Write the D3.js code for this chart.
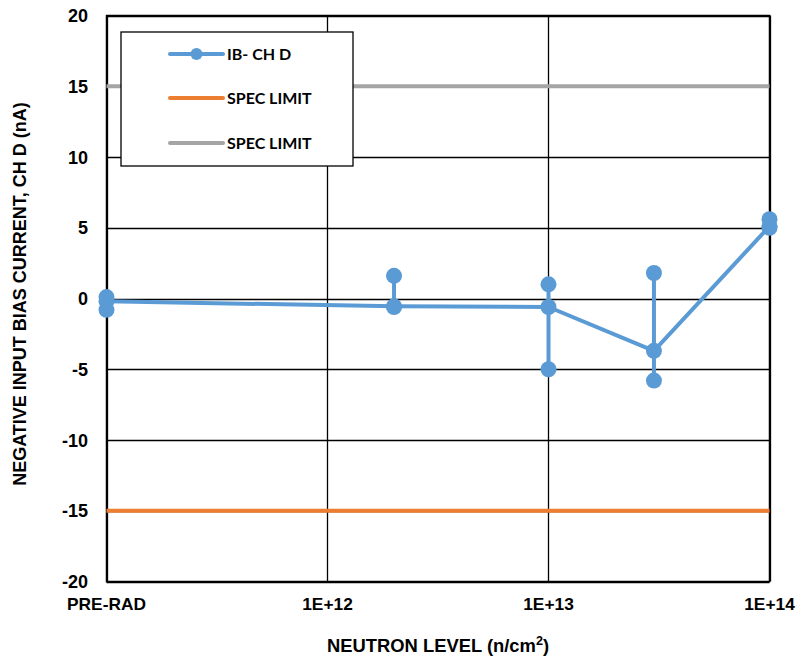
<!DOCTYPE html>
<html><head><meta charset="utf-8">
<script src="https://cdn.jsdelivr.net/npm/d3@7"></script>
<style>body{margin:0;background:#fff}svg{display:block}</style>
</head><body>
<script>
// Data
const levels = [1e11, 2e12, 1e13, 3e13, 1e14];
const hiVals  = [0.1, 1.6, 1.0, 1.8, 5.6];
const midVals = [-0.2, -0.55, -0.6, -3.7, 5.1];
const loVals  = [-0.8, -0.6, -5.0, -5.8, 5.0];
const specHigh = 15, specLow = -15;
const xTicks = [1e11, 1e12, 1e13, 1e14];
const xTickLabels = ["PRE-RAD", "1E+12", "1E+13", "1E+14"];
const yTicks = [-20, -15, -10, -5, 0, 5, 10, 15, 20];
const legendLabels = ["IB- CH D", "SPEC LIMIT", "SPEC LIMIT"];

const W = 796, H = 659;
const m = {l:106.5, r:769.5, t:15.5, b:581.5};
const blue = "#5B9BD5", orange = "#ED7D31", grey = "#A5A5A5";
const arial = "Liberation Sans, Arial, sans-serif";

const svg = d3.select("body").append("svg").attr("width", W).attr("height", H);
const x = d3.scaleLog().domain([1e11, 1e14]).range([m.l, m.r]);
const y = d3.scaleLinear().domain([-20, 20]).range([m.b, m.t]);

// grid
const g = svg.append("g");
g.selectAll(".hg").data(yTicks).join("line")
  .attr("x1", m.l).attr("x2", m.r)
  .attr("y1", d => Math.round(y(d)) + 0.5).attr("y2", d => Math.round(y(d)) + 0.5)
  .attr("stroke", "#000").attr("stroke-width", 1.3);
g.selectAll(".vg").data(xTicks).join("line")
  .attr("y1", m.t).attr("y2", m.b)
  .attr("x1", d => Math.round(x(d)) + 0.5).attr("x2", d => Math.round(x(d)) + 0.5)
  .attr("stroke", "#000").attr("stroke-width", 1.3);
g.append("rect").attr("x", m.l).attr("y", m.t).attr("width", m.r - m.l).attr("height", m.b - m.t)
  .attr("fill", "none").attr("stroke", "#000").attr("stroke-width", 1.5);

// spec limits
svg.append("line").attr("x1", m.l).attr("x2", m.r).attr("y1", y(specLow)).attr("y2", y(specLow))
  .attr("stroke", orange).attr("stroke-width", 4);
svg.append("line").attr("x1", m.l).attr("x2", m.r).attr("y1", y(specHigh)).attr("y2", y(specHigh))
  .attr("stroke", grey).attr("stroke-width", 4);

// series
const pts = levels.map((lv, i) => ({lv, hi: hiVals[i], mid: midVals[i], lo: loVals[i]}));
svg.selectAll(".vseg").data(pts).join("line")
  .attr("x1", d => x(d.lv)).attr("x2", d => x(d.lv))
  .attr("y1", d => y(d.hi)).attr("y2", d => y(d.lo))
  .attr("stroke", blue).attr("stroke-width", 4);
svg.append("path").datum(pts)
  .attr("d", d3.line().x(d => x(d.lv)).y(d => y(d.mid)))
  .attr("fill", "none").attr("stroke", blue).attr("stroke-width", 4).attr("stroke-linejoin", "round");
const dots = [];
pts.forEach(d => { dots.push([d.lv, d.hi], [d.lv, d.mid], [d.lv, d.lo]); });
svg.selectAll(".dot").data(dots).join("circle")
  .attr("cx", d => x(d[0])).attr("cy", d => y(d[1])).attr("r", 8).attr("fill", blue);

// y tick labels
svg.selectAll(".yl").data(yTicks).join("text")
  .attr("x", 88).attr("y", d => y(d) + 6.5)
  .attr("text-anchor", "end").attr("font-family", arial)
  .attr("font-weight", "bold").attr("font-size", 18).text(d => d);

// x tick labels
svg.selectAll(".xl").data(xTicks).join("text")
  .attr("transform", d => `translate(${x(d)},610) scale(1.05,1)`)
  .attr("text-anchor", "middle").attr("font-family", arial)
  .attr("font-weight", "bold").attr("font-size", 16.5).text((d, i) => xTickLabels[i]);

// axis titles
const xt = svg.append("text").attr("transform", "translate(438,652) scale(1.05,1)").attr("text-anchor", "middle")
  .attr("font-family", arial).attr("font-weight", "bold").attr("font-size", 17.5);
xt.append("tspan").text("NEUTRON LEVEL (n/cm");
xt.append("tspan").attr("dy", -7).attr("font-size", 12).text("2");
xt.append("tspan").attr("dy", 7).text(")");

svg.append("text").attr("transform", "translate(26,294) rotate(-90)").attr("text-anchor", "middle")
  .attr("font-family", arial).attr("font-weight", "bold").attr("font-size", 18)
  .text("NEGATIVE INPUT BIAS CURRENT, CH D (nA)");

// legend
const lg = svg.append("g");
lg.append("rect").attr("x", 121).attr("y", 32).attr("width", 232).attr("height", 134)
  .attr("fill", "#fff").attr("stroke", "#000").attr("stroke-width", 1.3);
const lcolors = [blue, orange, grey];
const rowsY = [54, 98, 143];
legendLabels.forEach((t, i) => {
  lg.append("line").attr("x1", 170).attr("x2", 223).attr("y1", rowsY[i]).attr("y2", rowsY[i])
    .attr("stroke", lcolors[i]).attr("stroke-width", 4).attr("stroke-linecap", "round");
  if (i === 0) lg.append("circle").attr("cx", 196.5).attr("cy", rowsY[i]).attr("r", 6).attr("fill", blue);
  lg.append("text").attr("x", 227).attr("y", rowsY[i] + 5.5)
    .attr("font-family", "Lato, Open Sans, sans-serif").attr("font-weight", "bold").attr("font-size", 16)
    .text(t);
});
</script>
</body></html>
